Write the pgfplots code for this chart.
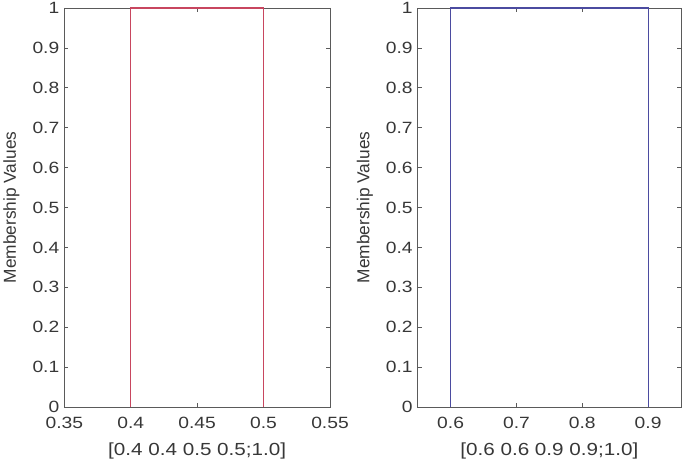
\documentclass[border=0pt]{standalone}
\usepackage{fontspec}
\setmainfont{Liberation Sans}
\newfontfamily\wfont[FakeStretch=1.18]{Liberation Sans}
\usepackage{pgfplots}
\pgfplotsset{compat=1.18}
\definecolor{axgray}{RGB}{90,90,90}
\definecolor{txtgray}{RGB}{55,55,55}
\definecolor{mfred}{RGB}{200,70,95}
\definecolor{mfblue}{RGB}{75,75,160}
\pgfplotsset{
  mfstyle/.style={
    scale only axis,
    height=399pt,
    ymin=0, ymax=1,
    ytick={0,0.1,...,1},
    tick align=inside,
    tick pos=both,
    xticklabel pos=lower,
    yticklabel pos=left,
    major tick length=4pt,
    clip=false,
    axis line style={draw=axgray, line width=0.8pt},
    every tick/.style={draw=axgray, line width=0.7pt},
    /pgf/number format/assume math mode=true,
    /pgf/number format/fixed,
    tick label style={font=\wfont\fontsize{16.3}{19}\selectfont, text=txtgray},
    xticklabel style={yshift=-6.5pt},
    yticklabel style={xshift=-1.5pt},
    xlabel style={font=\wfont\fontsize{17.5}{21}\selectfont, text=txtgray, at={(axis description cs:0.5,-0.1203)}, anchor=base},
    ylabel style={font=\fontsize{17.3}{21}\selectfont, text=txtgray, anchor=center},
    ylabel={Membership Values},
  }
}
\begin{document}
\begin{tikzpicture}
\path[use as bounding box] (0,0) rectangle (685pt,463pt);
\begin{axis}[mfstyle,
  at={(64.3pt,56pt)}, anchor=south west,
  width=265.7pt,
  xmin=0.35, xmax=0.55,
  xtick={0.35,0.4,0.45,0.5,0.55},
  xlabel={[0.4 0.4 0.5 0.5;1.0]},
  ylabel style={at={(axis description cs:-0.1987,0.5)}},
]
\addplot[mfred, line width=1.1pt] coordinates {(0.4,0) (0.4,1) (0.5,1) (0.5,0)};
\end{axis}
\begin{axis}[mfstyle,
  at={(417.7pt,56pt)}, anchor=south west,
  width=263.3pt,
  xmin=0.55, xmax=0.95,
  xtick={0.6,0.7,0.8,0.9},
  xlabel={[0.6 0.6 0.9 0.9;1.0]},
  ylabel style={at={(axis description cs:-0.2005,0.5)}},
]
\addplot[mfblue, line width=1.1pt] coordinates {(0.6,0) (0.6,1) (0.9,1) (0.9,0)};
\end{axis}
\end{tikzpicture}
\end{document}
